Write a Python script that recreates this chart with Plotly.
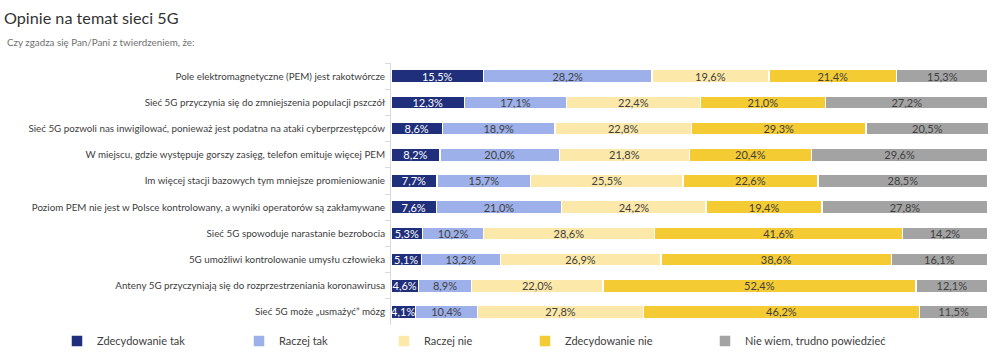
import plotly.graph_objects as go

categories = [
    "Pole elektromagnetyczne (PEM) jest rakotwórcze",
    "Sieć 5G przyczynia się do zmniejszenia populacji pszczół",
    "Sieć 5G pozwoli nas inwigilować, ponieważ jest podatna na ataki cyberprzestępców",
    "W miejscu, gdzie występuje gorszy zasięg, telefon emituje więcej PEM",
    "Im więcej stacji bazowych tym mniejsze promieniowanie",
    "Poziom PEM nie jest w Polsce kontrolowany, a wyniki operatorów są zakłamywane",
    "Sieć 5G spowoduje narastanie bezrobocia",
    "5G umożliwi kontrolowanie umysłu człowieka",
    "Anteny 5G przyczyniają się do rozprzestrzeniania koronawirusa",
    "Sieć 5G może „usmażyć” mózg",
]
series_names = ["Zdecydowanie tak", "Raczej tak", "Raczej nie", "Zdecydowanie nie", "Nie wiem, trudno powiedzieć"]
zdecydowanie_tak = [15.5, 12.3, 8.6, 8.2, 7.7, 7.6, 5.3, 5.1, 4.6, 4.1]
raczej_tak = [28.2, 17.1, 18.9, 20.0, 15.7, 21.0, 10.2, 13.2, 8.9, 10.4]
raczej_nie = [19.6, 22.4, 22.8, 21.8, 25.5, 24.2, 28.6, 26.9, 22.0, 27.8]
zdecydowanie_nie = [21.4, 21.0, 29.3, 20.4, 22.6, 19.4, 41.6, 38.6, 52.4, 46.2]
nie_wiem = [15.3, 27.2, 20.5, 29.6, 28.5, 27.8, 14.2, 16.1, 12.1, 11.5]

values = [zdecydowanie_tak, raczej_tak, raczej_nie, zdecydowanie_nie, nie_wiem]
colors = ["#1f2f7b", "#9db0ea", "#fce8a8", "#f4cb33", "#a3a3a3"]
text_colors = ["#ffffff", "#404040", "#404040", "#404040", "#404040"]

W, H = 1000, 356
L, R, T, B = 391, 12, 63, 31

# legend text start positions (px)
legend_px = [97, 279, 424, 565, 745]

FONT = "Lato, 'Open Sans', sans-serif"

fig = go.Figure()
for i, (name, vals) in enumerate(zip(series_names, values)):
    lg = "legend" if i == 0 else f"legend{i+1}"
    fig.add_trace(go.Bar(
        y=categories, x=vals, name=name, orientation="h",
        marker=dict(color=colors[i], line=dict(color="white", width=1.5)),
        text=[f"{v:.1f}%".replace(".", ",") for v in vals],
        textposition="inside", insidetextanchor="middle",
        textfont=dict(color=text_colors[i], size=11, family=FONT),
        textangle=0, constraintext="none",
        hoverinfo="skip", legend=lg, showlegend=True,
    ))

layout_legends = {}
for i in range(5):
    key = "legend" if i == 0 else f"legend{i+1}"
    xpx = legend_px[i] - 40
    layout_legends[key] = dict(
        xref="container", yref="container",
        x=xpx / W, xanchor="left",
        y=1 - 341 / H, yanchor="middle",
        orientation="h", bgcolor="rgba(0,0,0,0)",
        font=dict(size=11, color="#404040", family=FONT),
        itemwidth=30, visible=True,
    )

fig.update_layout(
    width=W, height=H,
    margin=dict(l=L, r=R, t=T, b=B, autoexpand=False),
    barmode="stack", bargap=0.5,
    plot_bgcolor="white", paper_bgcolor="white",
    font=dict(family=FONT, color="#404040"),
    showlegend=True,
    **layout_legends,
    xaxis=dict(range=[0, 100], visible=False, fixedrange=True),
    yaxis=dict(autorange="reversed", automargin=False, showline=True, linecolor="#d9d9d9", linewidth=1,
               ticks="outside", tickson="boundaries", ticklen=5, tickcolor="#d9d9d9",
               tickfont=dict(size=9.8, color="#404040", family=FONT), ticklabelstandoff=3,
               fixedrange=True),
    title=dict(
        text="Opinie na temat sieci 5G", xref="container", yref="container",
        x=4 / W, y=1 - 18 / H, xanchor="left", yanchor="middle",
        font=dict(size=16.2, color="#333333", family=FONT),
    ),
    annotations=[
        dict(text="Czy zgadza się Pan/Pani z twierdzeniem, że:", xref="paper", yref="paper",
             x=(5 - L) / (W - L - R), y=1 + (T - 42) / (H - T - B), xanchor="left", yanchor="middle",
             showarrow=False, font=dict(size=9.8, color="#707070", family=FONT)),
    ],
)

fig.write_html("out.html",
               config={"displayModeBar": False, "responsive": False},
               post_script="document.body.style.margin='0';document.body.style.overflow='hidden';")
